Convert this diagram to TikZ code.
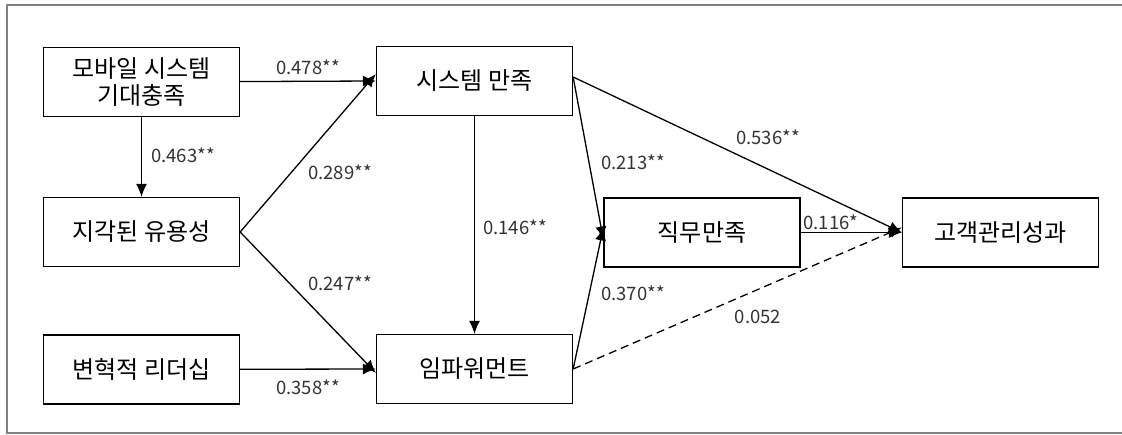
\documentclass[tikz,border=0pt]{standalone}
\usepackage{fontspec}
\setmainfont{Noto Sans CJK KR}
\usetikzlibrary{arrows.meta}
\begin{document}
\begin{tikzpicture}[x=1pt,y=-1pt,
  var/.style={draw,line width=1.3pt,minimum width=196pt,minimum height=69pt,
    inner sep=0pt,align=center,font=\fontsize{24}{27}\selectfont},
  lbl/.style={inner sep=0pt,font=\fontsize{18.5}{20}\selectfont,text=black!80},
  path/.style={line width=1.3pt,-{Latex[length=13pt,width=11pt]}}]
  \useasboundingbox (0,0) rectangle (1122,435);
  \draw[gray,line width=1.3pt] (7,5) rectangle (1130,433);
  % variables
  \node[var] (expect) at (141.5,82) {모바일 시스템\\기대충족};
  \node[var] (useful) at (141.5,232) {지각된 유용성};
  \node[var] (leader) at (141.5,369.5) {변혁적 리더십};
  \node[var] (syssat) at (474.5,81) {시스템 만족};
  \node[var] (empower) at (474.5,369) {임파워먼트};
  \node[var] (jobsat) at (702,232.5) {직무만족};
  \node[var] (custperf) at (1000.5,232.5) {고객관리성과};
  % paths
  \draw[path] (expect) -- (syssat.west);
  \draw[path] (expect) -- (useful);
  \draw[path] (useful.east) -- ([yshift=7pt]syssat.west);
  \draw[path] (useful.east) -- ([yshift=-4pt]empower.west);
  \draw[path] (leader) -- (empower.west);
  \draw[path] (syssat) -- (empower);
  \draw[path] ([yshift=4pt]syssat.east) -- ([yshift=-7pt]jobsat.west);
  \draw[path] (empower.east) -- ([yshift=5pt]jobsat.west);
  \draw[path] ([yshift=4pt]syssat.east) -- (custperf.west);
  \draw[path] (jobsat) -- (custperf);
  \draw[path,dashed,dash pattern=on 8pt off 5pt] (empower.east) -- ([yshift=5pt]custperf.west);
  % coefficients
  \node[lbl] (c478) at (308,67) {0.478**};
  \node[lbl] (c463) at (183,155) {0.463**};
  \node[lbl] (c289) at (340,172) {0.289**};
  \node[lbl] (c247) at (340,283) {0.247**};
  \node[lbl] (c358) at (308,387) {0.358**};
  \node[lbl] (c146) at (515,227) {0.146**};
  \node[lbl] (c213) at (633,162) {0.213**};
  \node[lbl] (c370) at (633,293) {0.370**};
  \node[lbl] (c536) at (768,137) {0.536**};
  \node[lbl] (c116) at (831,222) {0.116*};
  \node[lbl] (c052) at (758,317) {0.052};
\end{tikzpicture}
\end{document}
